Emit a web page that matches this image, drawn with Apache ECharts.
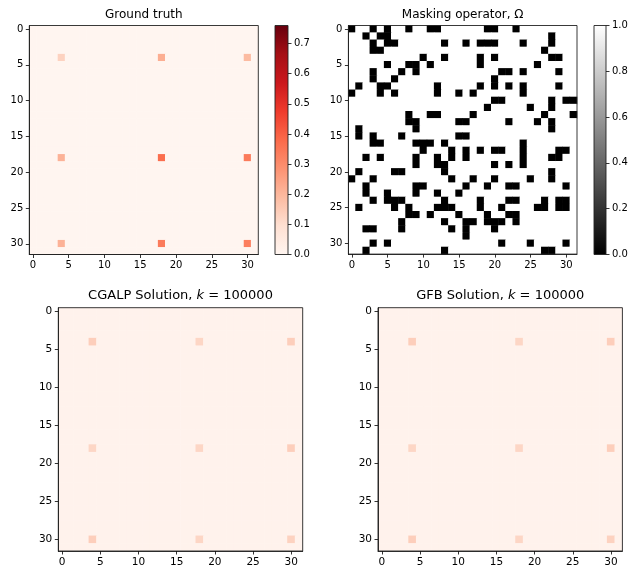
<!DOCTYPE html>
<html><head><meta charset="utf-8">
<script src="https://cdn.jsdelivr.net/npm/echarts@6/dist/echarts.min.js"></script>
<style>html,body{margin:0;padding:0;background:#fff}#c{width:632px;height:568px}</style>
</head><body><div id="c"></div>
<script>
// ---- data ----
const N = 32;
const cellIndex = Array.from({length: N}, (_, i) => String(i));
const axisTickValues = [0, 5, 10, 15, 20, 25, 30];
const spikeRows = [4, 4, 4, 18, 18, 18, 30, 30, 30];
const spikeCols = [4, 18, 30, 4, 18, 30, 4, 18, 30];
const groundTruthValues = [0.13, 0.22, 0.19, 0.21, 0.37, 0.34, 0.21, 0.34, 0.33];
const cgalpValues = [0.14, 0.12, 0.14, 0.12, 0.12, 0.14, 0.14, 0.12, 0.13];
const gfbValues = [0.14, 0.12, 0.14, 0.12, 0.12, 0.14, 0.14, 0.12, 0.13];
const groundTruthBackground = 0;
const solutionBackground = 0.012;
// columns where the mask is 0 (black), one list per row
const maskZeros = [
  [0, 3, 5, 8, 11, 12, 19, 20, 23],
  [2, 4, 5, 28],
  [3, 5, 6, 13, 16, 18, 19, 20, 24, 28],
  [3, 4, 27],
  [10, 13, 18, 20, 28, 29],
  [5, 8, 9, 11, 18, 26],
  [3, 7, 9, 21, 22, 24, 29],
  [3, 6, 20],
  [1, 4, 5, 12, 18, 20, 22, 24, 29],
  [0, 4, 6, 12, 15, 17, 24],
  [20, 21, 28, 30, 31],
  [19, 25, 28],
  [8, 11, 12, 17, 27, 31],
  [8, 9, 15, 16, 22, 26, 28],
  [1, 9, 28],
  [1, 3, 7, 15, 16],
  [3, 4, 9, 10, 11, 13, 24],
  [10, 14, 16, 18, 20, 21, 24, 29, 30],
  [2, 4, 9, 12, 14, 16, 24, 28, 29],
  [9, 12, 13, 20, 22, 24],
  [1, 6, 7, 13, 28],
  [0, 3, 14, 17, 20, 25, 28],
  [2, 9, 10, 16, 19, 22, 23, 30],
  [2, 5, 9, 12, 15],
  [3, 5, 6, 7, 13, 18, 22, 23, 27, 29, 30],
  [1, 6, 8, 12, 13, 14, 18, 21, 26, 27, 29, 30],
  [8, 9, 11, 15, 19, 22, 23],
  [7, 13, 16, 17, 19, 20, 21, 23],
  [2, 3, 7, 14, 16, 20],
  [16],
  [3, 5, 21, 25, 30],
  [2, 13, 27, 28]
];
const redsMax = 0.76;
const redsTicks = [0, 0.1, 0.2, 0.3, 0.4, 0.5, 0.6, 0.7];
const maskTicks = [0, 0.2, 0.4, 0.6, 0.8, 1.0];
const redsColors = ['#fff5f0','#fee0d2','#fcbba1','#fc9272','#fb6a4a','#ef3b2c','#cb181d','#a50f15','#67000d'];

// ---- build matrices ----
function spikeField(bg, values) {
  const m = [];
  const lookup = {};
  spikeRows.forEach((r, i) => { lookup[r + ',' + spikeCols[i]] = values[i]; });
  for (let r = 0; r < N; r++) for (let c = 0; c < N; c++) {
    const k = r + ',' + c;
    m.push([c, r, k in lookup ? lookup[k] : bg]);
  }
  return m;
}
function maskField() {
  const m = [];
  for (let r = 0; r < N; r++) for (let c = 0; c < N; c++) {
    m.push([c, r, maskZeros[r].includes(c) ? 0 : 1]);
  }
  return m;
}

const FONT = 'DejaVu Sans';
const black = '#000';
function catAxes(gi, fs) {
  const common = {
    type: 'category', data: cellIndex, gridIndex: gi, z: 5,
    axisLine: {show: true, lineStyle: {color: black, width: 0.8}},
    axisTick: {show: true, alignWithLabel: true, length: 3.5, lineStyle: {color: black, width: 0.8},
      interval: (i) => axisTickValues.includes(i)},
    axisLabel: {show: true, color: black, fontFamily: FONT, fontSize: fs, margin: 6,
      interval: (i) => axisTickValues.includes(i)},
    splitLine: {show: false}, splitArea: {show: false}
  };
  return [
    Object.assign({}, common, {position: 'bottom'}),
    Object.assign({}, common, {position: 'left', inverse: true})
  ];
}
function cbAxes(gi, max, ticks) {
  return [
    {type: 'category', data: ['cb'], gridIndex: gi, show: false},
    {type: 'value', gridIndex: gi, min: 0, max: max, position: 'right', z: 5,
      axisLine: {show: false},
      axisTick: {show: true, inside: false, length: 3.5, lineStyle: {color: black, width: 0.8}, customValues: ticks},
      axisLabel: {show: true, color: black, fontFamily: FONT, fontSize: 10, margin: 6,
        customValues: ticks, formatter: (v) => v.toFixed(1)},
      splitLine: {show: false}}
  ];
}
const grids = [
  {left: 29.3, top: 25.5, width: 229, height: 229},
  {left: 275, top: 25.5, width: 13, height: 229},
  {left: 348.4, top: 25.5, width: 228.6, height: 228.6},
  {left: 594, top: 25.5, width: 12, height: 229},
  {left: 58.3, top: 307.7, width: 244.4, height: 243.3},
  {left: 378, top: 307.7, width: 244.4, height: 243.3}
].map(g => Object.assign(g, {show: true, z: 10, backgroundColor: 'transparent', borderColor: '#222', borderWidth: 0.9, containLabel: false}));

const a0 = catAxes(0, 10), a2 = catAxes(2, 10), a4 = catAxes(4, 10.5), a5 = catAxes(5, 10.5);
const c1 = cbAxes(1, redsMax, redsTicks), c3 = cbAxes(3, 1, maskTicks);
const xAxis = [a0[0], c1[0], a2[0], c3[0], a4[0], a5[0]];
const yAxis = [a0[1], c1[1], a2[1], c3[1], a4[1], a5[1]];

const heat = (xi, data) => ({type: 'heatmap', xAxisIndex: xi, yAxisIndex: xi, data: data,
  itemStyle: {borderWidth: 0}, emphasis: {disabled: true}, progressive: 0, z: 2});

const redStops = redsColors.map((c, i) => ({offset: i / (redsColors.length - 1), color: c}));
const series = [
  heat(0, spikeField(groundTruthBackground, groundTruthValues)),
  heat(2, maskField()),
  heat(4, spikeField(solutionBackground, cgalpValues)),
  heat(5, spikeField(solutionBackground, gfbValues)),
  {type: 'bar', xAxisIndex: 1, yAxisIndex: 1, data: [redsMax], barWidth: '100%', silent: true,
    itemStyle: {color: new echarts.graphic.LinearGradient(0, 1, 0, 0, redStops)}},
  {type: 'bar', xAxisIndex: 3, yAxisIndex: 3, data: [1], barWidth: '100%', silent: true,
    itemStyle: {color: new echarts.graphic.LinearGradient(0, 1, 0, 0, [{offset: 0, color: '#000'}, {offset: 1, color: '#fff'}])}}
];

const titleStyle = (x, y, text, fs) => ({type: 'text', x: x, y: y,
  style: {text: text, fill: black, fontFamily: FONT, fontSize: fs, textAlign: 'center', textVerticalAlign: 'middle',
    rich: {i: {fontStyle: 'italic', fontFamily: FONT, fontSize: fs, fill: black}}}});

const chart = echarts.init(document.getElementById('c'), null, {renderer: 'canvas'});
chart.setOption({
  animation: false,
  backgroundColor: '#fff',
  grid: grids,
  xAxis: xAxis,
  yAxis: yAxis,
  visualMap: [
    {type: 'continuous', show: false, seriesIndex: [0, 2, 3], min: 0, max: redsMax, inRange: {color: redsColors}},
    {type: 'continuous', show: false, seriesIndex: [1], min: 0, max: 1, inRange: {color: ['#000000', '#ffffff']}}
  ],
  series: series,
  graphic: [
    titleStyle(143.8, 15, 'Ground truth', 12),
    titleStyle(462.7, 15, 'Masking operator, Ω', 12),
    titleStyle(180.5, 296, 'CGALP Solution, {i|k} = 100000', 13),
    titleStyle(500.2, 296, 'GFB Solution, {i|k} = 100000', 13)
  ]
});
</script></body></html>
